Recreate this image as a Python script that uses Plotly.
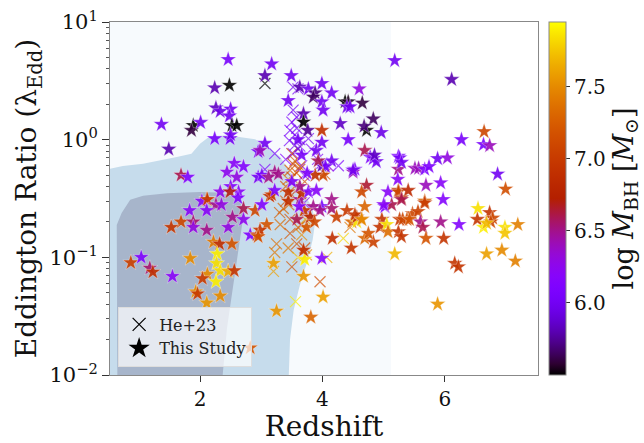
import numpy as np
import plotly.graph_objects as go

# ---------------- data ----------------
# "This Study" (stars): redshift, Eddington ratio, log M_BH
star_z = [2.46, 2.24, 2.48, 2.26, 2.33, 2.50, 2.48, 1.37, 1.89, 1.86, 2.01, 2.52, 2.60, 2.24, 2.49, 2.50,
          1.49, 2.95, 1.69, 1.80, 2.56, 2.71, 2.44, 2.60, 2.95, 2.33, 2.50, 2.63, 2.49, 2.11, 2.62,
          2.03, 2.12, 2.26, 2.35, 1.83, 2.11, 1.69, 1.89, 1.89, 1.53, 2.11, 2.46, 2.53, 2.71, 2.71,
          2.90, 2.82, 2.93, 2.22, 2.32, 2.52, 2.28, 1.84, 0.87, 1.04, 1.18, 1.23, 1.55, 2.27, 2.33,
          2.46, 2.56, 2.12, 2.04, 2.26, 1.93, 1.96, 2.33, 2.11, 2.82,
          3.14, 3.01, 3.44, 3.63, 3.09, 2.98, 2.95, 3.74, 3.99, 4.15, 4.15, 4.23, 4.40, 4.69, 4.48,
          4.56, 4.56, 4.64, 4.16, 4.47, 3.99, 3.71, 3.69, 3.20, 3.69, 4.01, 3.25, 3.81, 4.69, 4.83,
          4.75, 4.97, 4.94, 5.05, 5.07, 5.18, 5.02, 5.13, 5.24,
          3.17, 3.06, 3.49, 3.63, 3.77, 3.88, 3.85, 3.99, 4.15, 3.99, 4.01, 3.44, 3.69, 3.69, 3.76,
          3.99, 4.37, 4.42, 4.40, 4.45, 4.60, 4.65, 4.83, 4.72, 4.68, 4.29, 4.42, 4.96, 5.18, 4.69,
          4.78, 4.83, 4.88, 4.53, 4.50, 4.15, 3.99, 4.05, 3.90, 3.99, 3.60, 3.66, 3.93, 4.01, 3.88,
          4.72, 4.64, 5.07, 5.24, 3.44, 3.22, 3.06, 2.98, 3.01, 3.12, 3.17, 3.28, 3.85, 3.66, 3.77,
          3.90, 4.85, 5.24, 4.50, 5.24, 5.00, 4.53, 4.64, 3.22, 3.63, 3.96, 3.75,
          6.11, 6.64, 6.27, 6.63, 6.73, 5.26, 5.29, 5.88, 6.04, 5.51, 5.57, 5.67, 5.74, 5.23, 5.69,
          5.93, 6.86, 6.99, 5.24, 5.40, 5.29, 5.97, 5.67,
          5.29, 5.67, 5.47, 5.56, 5.38, 5.26, 5.31, 5.42, 5.60, 5.64, 5.29, 5.69, 5.93, 6.23, 5.98,
          6.54, 6.73, 6.53, 6.78, 6.75, 6.63, 6.68, 6.98, 6.98, 7.19, 6.68, 6.93, 7.15, 6.16, 6.22,
          5.88, 3.70, 3.80, 3.58, 3.87, 3.62, 3.50]
star_lam = [4.8, 2.76, 2.9, 1.86, 1.74, 1.82, 1.59, 1.35, 1.32, 1.20, 1.40, 1.32, 1.32, 1.02, 1.02, 1.10,
            0.83, 0.79, 0.50, 0.48, 0.63, 0.59, 0.53, 0.48, 0.48, 0.36, 0.40, 0.36, 0.36, 0.31, 0.32,
            0.30, 0.31, 0.28, 0.28, 0.25, 0.25, 0.20, 0.20, 0.18, 0.18, 0.17, 0.18, 0.22, 0.21, 0.26,
            0.25, 0.155, 0.155, 0.135, 0.13, 0.13, 0.107, 0.098, 0.090, 0.100, 0.081, 0.075, 0.069, 0.089, 0.077,
            0.076, 0.077, 0.072, 0.066, 0.062, 0.051, 0.049, 0.047, 0.041, 0.017,
            0.33, 0.28, 0.30, 0.31, 0.19, 0.17, 0.15, 0.18, 0.27, 0.31, 0.26, 0.22, 0.25, 0.27, 0.20,
            0.20, 0.22, 0.21, 0.145, 0.12, 0.098, 0.096, 0.115, 0.089, 0.069, 0.046, 0.035, 0.031, 0.145, 0.135,
            0.16, 0.21, 0.18, 0.19, 0.165, 0.107, 0.27, 0.28, 0.165,
            4.4, 3.5, 3.5, 2.8, 2.7, 2.5, 2.3, 3.0, 2.5, 2.1, 1.78, 2.15, 1.66, 1.41, 1.20,
            1.20, 2.1, 2.1, 1.9, 1.9, 2.7, 2.05, 1.5, 1.2, 1.3, 1.37, 1.0, 1.15, 4.7, 0.81,
            0.71, 0.69, 0.65, 0.56, 0.53, 0.66, 0.60, 0.59, 0.81, 0.95, 1.00, 0.74, 0.66, 0.50, 0.50,
            0.41, 0.36, 0.36, 0.56, 0.36, 0.53, 0.93, 0.81, 0.50, 0.48, 0.34, 0.51, 0.27, 0.35, 0.36,
            0.37, 0.74, 0.72, 0.55, 0.37, 0.28, 0.23, 0.21, 0.37, 0.40, 0.25, 0.52,
            3.25, 1.17, 1.00, 0.91, 0.89, 0.70, 0.64, 0.69, 0.70, 0.57, 0.57, 0.56, 0.59, 0.46, 0.41,
            0.43, 0.51, 0.38, 0.36, 0.37, 0.32, 0.31, 0.30,
            0.31, 0.29, 0.235, 0.245, 0.21, 0.21, 0.21, 0.21, 0.20, 0.18, 0.15, 0.145, 0.20, 0.19, 0.145,
            0.26, 0.24, 0.21, 0.215, 0.20, 0.18, 0.195, 0.18, 0.16, 0.19, 0.107, 0.115, 0.093, 0.089, 0.083,
            0.040, 0.25, 0.22, 0.21, 0.20, 0.27, 0.44]
star_m = [6.05, 5.8, 5.5, 5.85, 5.95, 6.0, 6.0, 6.0, 5.5, 5.6, 6.0, 5.5, 5.5, 6.05, 6.0, 6.0,
          5.8, 6.05, 6.6, 6.1, 6.2, 6.15, 6.25, 6.3, 6.0, 6.25, 6.15, 6.2, 6.7, 7.1, 6.1,
          6.2, 7.0, 6.5, 6.3, 6.2, 6.2, 7.1, 6.55, 6.3, 6.95, 6.5, 6.3, 6.5, 6.25, 6.6,
          7.1, 6.1, 7.2, 7.4, 6.9, 7.2, 7.9, 7.5, 7.05, 6.1, 6.55, 6.9, 6.2, 7.85, 7.85,
          7.65, 6.95, 7.5, 7.0, 7.9, 7.5, 7.0, 7.5, 7.55, 7.2,
          6.9, 6.15, 6.9, 6.5, 7.2, 6.95, 7.15, 7.2, 6.05, 6.5, 6.55, 7.05, 7.0, 7.3, 7.3,
          7.85, 6.95, 7.35, 6.9, 6.95, 6.15, 7.9, 6.9, 7.6, 7.55, 7.6, 7.55, 7.3, 7.3, 7.05,
          7.2, 6.95, 6.95, 7.85, 7.35, 7.7, 6.1, 6.6, 6.95,
          6.0, 5.8, 6.0, 5.8, 6.0, 5.7, 5.65, 6.0, 6.0, 6.0, 6.0, 6.0, 5.8, 5.5, 5.75,
          6.9, 5.5, 5.55, 6.0, 6.0, 6.3, 5.6, 5.65, 5.5, 5.7, 5.85, 6.05, 5.95, 6.0, 6.6,
          6.1, 6.05, 6.0, 6.1, 6.4, 6.0, 5.85, 6.05, 6.0, 6.0, 6.0, 6.05, 6.6, 7.1, 6.9,
          6.65, 7.1, 6.2, 6.5, 6.9, 6.5, 6.0, 6.4, 6.05, 6.5, 7.0, 6.5, 6.5, 6.9, 6.1,
          6.2, 5.85, 6.1, 6.0, 6.9, 6.2, 6.95, 7.5, 6.1, 6.5, 6.5, 6.1,
          5.8, 7.1, 6.05, 6.05, 6.4, 6.05, 6.0, 6.0, 6.3, 6.4, 6.4, 6.1, 6.1, 6.2, 6.4,
          6.2, 6.0, 7.15, 7.1, 6.85, 6.9, 6.15, 7.3,
          6.6, 7.0, 7.1, 7.05, 7.15, 7.0, 7.1, 7.2, 6.5, 6.6, 6.95, 7.2, 6.5, 6.15, 6.95,
          7.85, 6.95, 6.95, 7.1, 7.1, 7.9, 7.7, 7.85, 7.75, 7.45, 7.6, 7.5, 7.45, 6.95, 6.95,
          7.55, 7.0, 6.8, 6.6, 7.1, 6.2, 6.1]

# He+23 (crosses)
he_z = [3.06, 3.52, 3.60, 3.52, 3.58, 3.50, 3.47, 3.55, 3.63, 3.77, 3.60, 3.22, 3.52, 3.82, 4.26, 3.99,
        3.66, 3.06, 3.50, 3.55, 3.47, 3.63, 3.44, 3.71, 4.04, 3.55, 3.36, 3.31, 3.47, 3.66, 3.44, 3.58,
        3.71, 3.22, 3.20, 3.50, 3.96, 3.56, 4.34, 4.07, 4.45, 3.74, 3.52, 3.58, 3.63, 3.50, 3.40, 3.50,
        3.40, 3.45, 3.30, 3.47, 3.70, 3.75, 3.60, 3.66, 3.72, 3.25, 3.60, 3.92, 4.09, 3.55, 3.63, 3.46,
        3.70, 3.58, 3.40]
he_lam = [3.0, 2.8, 2.7, 1.78, 1.55, 1.41, 1.20, 1.10, 1.00, 1.02, 0.83, 0.76, 0.76, 0.83, 0.60, 0.63,
          0.60, 0.56, 0.76, 0.66, 0.55, 0.56, 0.46, 0.44, 0.51, 0.40, 0.26, 0.19, 0.16, 0.155, 0.12, 0.13,
          0.12, 0.11, 0.076, 0.083, 0.062, 0.042, 0.145, 0.10, 0.18, 0.105, 0.62, 0.52, 0.59, 0.48, 0.40, 0.34,
          0.30, 0.28, 0.24, 0.21, 0.29, 0.25, 0.18, 0.19, 0.21, 0.13, 0.10, 0.68, 0.60, 0.90, 0.88, 0.98,
          0.50, 1.25, 0.68]
he_m = [5.5, 6.0, 6.05, 6.0, 6.05, 6.1, 6.05, 6.15, 6.1, 6.0, 5.7, 6.1, 6.2, 6.15, 6.15, 6.1,
        6.2, 6.1, 7.1, 7.2, 7.25, 7.1, 7.3, 7.15, 7.2, 7.3, 7.3, 7.35, 7.2, 7.5, 7.4, 7.2,
        7.15, 7.4, 7.6, 7.2, 7.15, 7.9, 7.8, 7.65, 7.4, 7.5, 7.0, 7.2, 7.3, 7.1, 7.25, 7.0,
        7.2, 7.3, 7.25, 7.2, 6.2, 6.3, 7.25, 7.3, 7.6, 7.35, 7.7, 6.2, 6.3, 6.0, 6.1, 6.05,
        6.05, 6.0, 6.15]

# background density contours (boundaries)
outer_z = [0.40, 5.12, 5.12, 0.40]
outer_lam = [0.005, 0.005, 20.0, 20.0]

mid_z = [0.40, 0.53, 0.74, 1.07, 1.62, 1.86, 2.00, 2.16, 2.44, 2.71, 2.90, 3.12, 3.31, 3.45, 3.58,
         3.71, 3.83, 3.88, 3.84, 3.76, 3.63, 3.53, 3.47, 3.44, 3.43, 0.40]
mid_lam = [0.567, 0.567, 0.598, 0.625, 0.713, 0.76, 0.924, 1.07, 1.09, 1.05, 1.01, 0.867, 0.713, 0.553,
           0.437, 0.339, 0.268, 0.20, 0.141, 0.095, 0.058, 0.0357, 0.020, 0.010, 0.005, 0.005]

core_z = [0.66, 0.65, 0.64, 0.72, 0.86, 1.07, 1.46, 2.00, 2.27, 2.49, 2.65, 2.71, 2.68, 2.60, 2.52,
          2.44, 2.37, 2.36]
core_lam = [0.005, 0.01, 0.188, 0.238, 0.308, 0.333, 0.351, 0.36, 0.355, 0.337, 0.308, 0.229, 0.178,
            0.092, 0.048, 0.025, 0.010, 0.005]

cb_ticks = [6.0, 6.5, 7.0, 7.5]
y_ticks = [0.01, 0.1, 1, 10]
y_ticktext = ["10<sup>−2</sup>", "10<sup>−1</sup>", "10<sup>0</sup>", "10<sup>1</sup>"]
y_minor = [m * 10.0 ** e for e in (-2, -1, 0) for m in range(2, 10)]
x_ticks = [2, 4, 6]

# ---------------- colormap (matplotlib "gnuplot") ----------------
t = np.linspace(0, 1, 33)
gnuplot = []
for v in t:
    r = np.sqrt(v)
    g = v ** 3
    b = max(0.0, np.sin(2 * np.pi * v))
    gnuplot.append([float(v), f"rgb({int(r*255)},{int(g*255)},{int(b*255)})"])

CMIN, CMAX = 5.5, 7.95
SERIF = "DejaVu Serif"

fig = go.Figure()

for zz, ll, col in [(outer_z, outer_lam, "rgb(247,250,253)"),
                    (mid_z, mid_lam, "rgb(198,220,236)"),
                    (core_z, core_lam, "rgb(167,181,203)")]:
    fig.add_trace(go.Scatter(x=zz, y=ll, mode="lines", fill="toself", fillcolor=col,
                             line=dict(width=0, color=col), hoverinfo="skip", showlegend=False))

fig.add_trace(go.Scatter(
    x=he_z, y=he_lam, mode="markers", showlegend=False,
    marker=dict(symbol="x-thin-open", size=11, color=he_m, colorscale=gnuplot, cmin=CMIN, cmax=CMAX,
                line=dict(width=1.2), opacity=0.7)))

fig.add_trace(go.Scatter(
    x=star_z, y=star_lam, mode="markers", showlegend=False,
    marker=dict(symbol="star", size=12, color=star_m, colorscale=gnuplot, cmin=CMIN, cmax=CMAX,
                opacity=0.9, line=dict(width=0.6, color="rgba(255,255,255,0.6)"),
                colorbar=dict(x=1.026, xanchor="left", xpad=0, y=0.5, yanchor="middle", ypad=0,
                              len=1.0, lenmode="fraction",
                              thickness=17, outlinewidth=1, outlinecolor="#888",
                              tickvals=cb_ticks, ticktext=[f"{v:.1f}" for v in cb_ticks],
                              ticks="outside", ticklen=4, tickcolor="#333",
                              tickfont=dict(family=SERIF, size=20, color="#111"),
                              title=dict(text="log <i>M</i><sub>BH</sub> [<i>M</i><sub>⊙</sub>]",
                                         side="right", font=dict(family=SERIF, size=27, color="#111"))))))

# legend proxies
fig.add_trace(go.Scatter(x=[None], y=[None], mode="markers", name="He+23",
                         marker=dict(symbol="x-thin-open", size=13, color="black", line=dict(width=1.2))))
fig.add_trace(go.Scatter(x=[None], y=[None], mode="markers", name="This Study",
                         marker=dict(symbol="star", size=17, color="black")))

fig.update_layout(
    width=644, height=443,
    margin=dict(l=110, r=106, t=22, b=68, autoexpand=False),
    paper_bgcolor="white", plot_bgcolor="white",
    font=dict(family=SERIF, color="#111"),
    legend=dict(x=0.019, y=0.024, xanchor="left", yanchor="bottom",
                bgcolor="rgba(255,255,255,0.7)", bordercolor="#ddd", borderwidth=1,
                font=dict(family=SERIF, size=16, color="#222")),
)
fig.update_xaxes(range=[0.53, 7.52], tickvals=x_ticks, ticks="outside", ticklen=6, tickcolor="#333",
                 showgrid=False, zeroline=False, showline=True, linecolor="#888", linewidth=1, mirror=True,
                 tickfont=dict(family=SERIF, size=20),
                 title=dict(text="Redshift", font=dict(family=SERIF, size=28), standoff=10))
fig.update_yaxes(type="log", range=[-2, 1], tickvals=y_ticks, ticktext=y_ticktext,
                 ticks="outside", ticklen=7, tickcolor="#333",
                 minor=dict(tickvals=y_minor, ticks="outside", ticklen=3.5, tickcolor="#555", showgrid=False),
                 showgrid=False, zeroline=False, showline=True, linecolor="#888", linewidth=1, mirror=True,
                 tickfont=dict(family=SERIF, size=21),
                 title=dict(text="Eddington Ratio (λ<sub>Edd</sub>)", font=dict(family=SERIF, size=28), standoff=4))

fig.write_html("out.html", config={"displayModeBar": False},
               post_script="document.body.style.margin='0px';document.body.style.overflow='hidden';")
